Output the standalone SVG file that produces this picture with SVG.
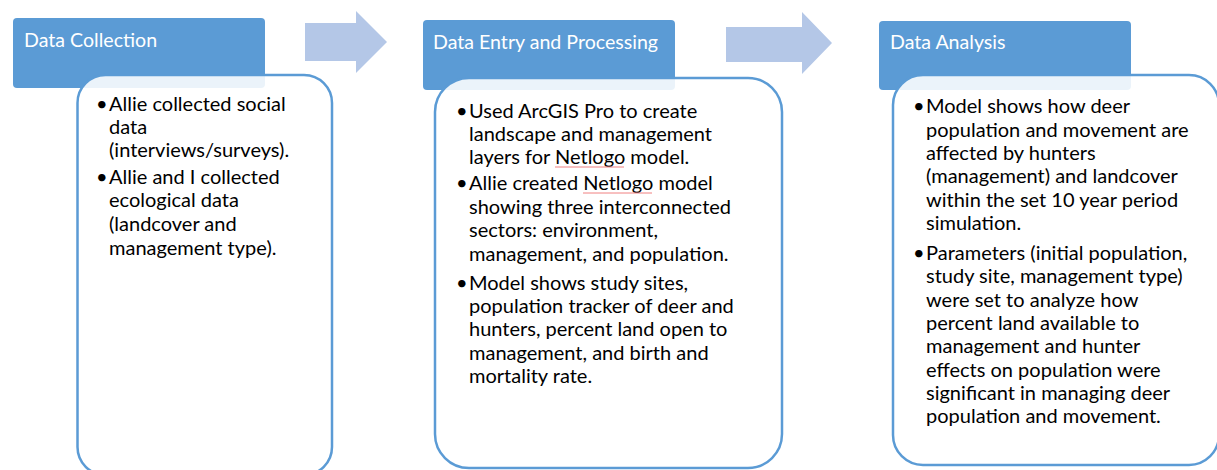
<svg xmlns="http://www.w3.org/2000/svg" width="1217" height="470" viewBox="0 0 1217 470">
<style>
.hdr{fill:#5B9BD5}
.box{fill:#FFFFFF;fill-opacity:0.88;stroke:#5B9BD5;stroke-width:2.5}
.arr{fill:#B4C7E7}
.ht{font-family:Lato,"Liberation Sans",sans-serif;font-size:19.6px;fill:#FFFFFF}
.bt{font-family:Lato,"Liberation Sans",sans-serif;font-size:20px;fill:#000000}
.sp{stroke:#F08080;stroke-width:1;fill:none}
</style>
<rect width="1217" height="470" fill="#FFFFFF"/>
<g id="connectors">
<polygon class="arr" points="305,23 356,23 356,11 387,42 356,73 356,61 305,61"/>
<polygon class="arr" points="726,27 802,27 802,12 832,43 802,74 802,62 726,62"/>
</g>
<g id="node-collection">
<rect class="hdr" x="13" y="18" width="252" height="70" rx="4"/>
<text class="ht" x="24" y="47">Data Collection</text>
<rect class="box" x="77.5" y="75" width="254.5" height="400" rx="28"/>
<text class="bt">
<tspan x="96" y="111">•</tspan><tspan x="109" y="111">Allie collected social</tspan>
<tspan x="109" y="134">data</tspan>
<tspan x="109" y="157">(interviews/surveys).</tspan>
<tspan x="96" y="184">•</tspan><tspan x="109" y="184">Allie and I collected</tspan>
<tspan x="109" y="207">ecological data</tspan>
<tspan x="109" y="231">(landcover and</tspan>
<tspan x="109" y="255">management type).</tspan>
</text>
</g>
<g id="node-entry">
<rect class="hdr" x="423" y="20" width="252" height="70" rx="4"/>
<text class="ht" x="433" y="49">Data Entry and Processing</text>
<rect class="box" x="435" y="78" width="347" height="390" rx="34"/>
<text class="bt">
<tspan x="456" y="118">•</tspan><tspan x="469" y="118">Used ArcGIS Pro to create</tspan>
<tspan x="469" y="141">landscape and management</tspan>
<tspan x="469" y="164">layers for Netlogo model.</tspan>
<tspan x="456" y="190">•</tspan><tspan x="469" y="190">Allie created Netlogo model</tspan>
<tspan x="469" y="214">showing three interconnected</tspan>
<tspan x="469" y="237">sectors: environment,</tspan>
<tspan x="469" y="261">management, and population.</tspan>
<tspan x="456" y="290">•</tspan><tspan x="469" y="290">Model shows study sites,</tspan>
<tspan x="469" y="313">population tracker of deer and</tspan>
<tspan x="469" y="336">hunters, percent land open to</tspan>
<tspan x="469" y="360">management, and birth and</tspan>
<tspan x="469" y="383">mortality rate.</tspan>
</text>
<path class="sp" d="M555,167 L624,167"/>
<path class="sp" d="M583,193 L652,193"/>
</g>
<g id="node-analysis">
<rect class="hdr" x="879" y="21" width="252" height="69" rx="4"/>
<text class="ht" x="890" y="49">Data Analysis</text>
<rect class="box" x="893" y="75" width="326" height="390" rx="30"/>
<text class="bt">
<tspan x="913" y="113">•</tspan><tspan x="926" y="113">Model shows how deer</tspan>
<tspan x="926" y="137">population and movement are</tspan>
<tspan x="926" y="160">affected by hunters</tspan>
<tspan x="926" y="183">(management) and landcover</tspan>
<tspan x="926" y="207">within the set 10 year period</tspan>
<tspan x="926" y="230">simulation.</tspan>
<tspan x="913" y="260">•</tspan><tspan x="926" y="260">Parameters (initial population,</tspan>
<tspan x="926" y="283">study site, management type)</tspan>
<tspan x="926" y="307">were set to analyze how</tspan>
<tspan x="926" y="330">percent land available to</tspan>
<tspan x="926" y="353">management and hunter</tspan>
<tspan x="926" y="377">effects on population were</tspan>
<tspan x="926" y="400">significant in managing deer</tspan>
<tspan x="926" y="423">population and movement.</tspan>
</text>
</g>
</svg>
